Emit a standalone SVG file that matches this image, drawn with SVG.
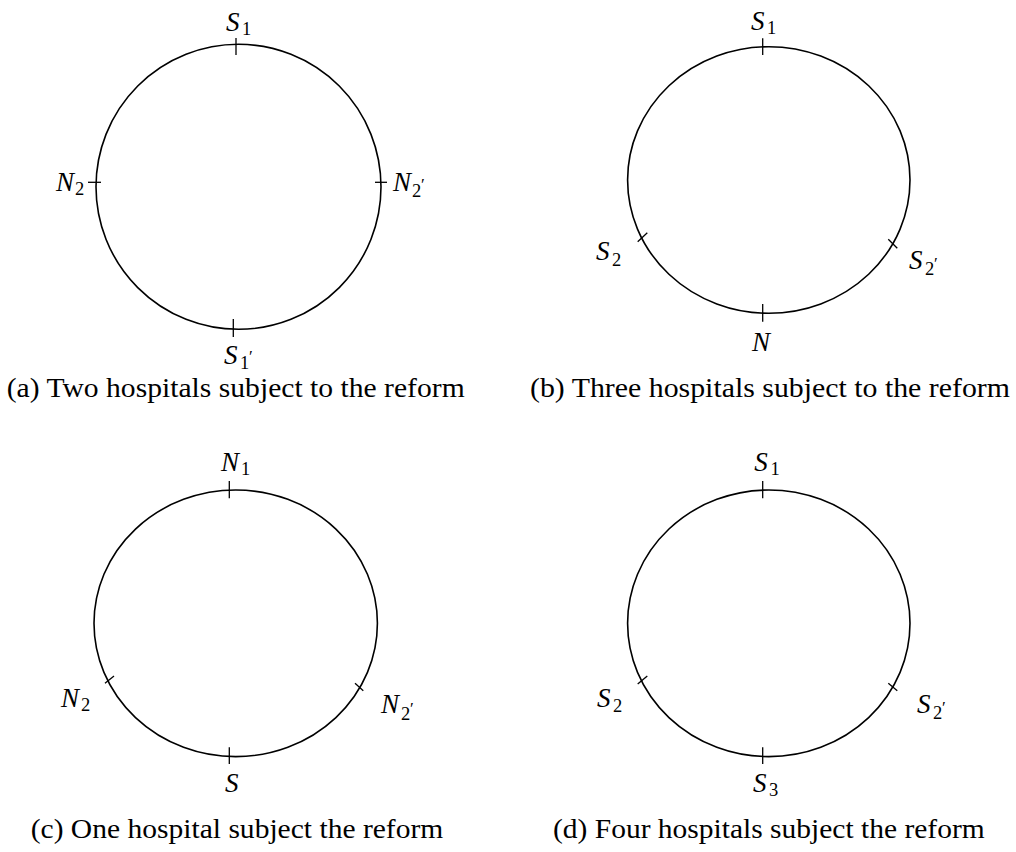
<svg xmlns="http://www.w3.org/2000/svg" width="1016" height="852" viewBox="0 0 1016 852">
<style>
.c{fill:none;stroke:#000;stroke-width:1.6}
.t{stroke:#000;stroke-width:1.3;fill:none}
text{font-family:'Liberation Serif','Times New Roman','DejaVu Serif',serif;fill:#000}
.m{font-style:italic;font-size:27px}
.s{font-size:18.5px}
.p{font-size:17px}
.cap{font-size:26.5px}
</style>
<rect width="1016" height="852" fill="#fff"/>

<g id="panel-a">
  <circle id="ring-a" class="c" cx="238.5" cy="186.8" r="142.5"/>
  <g id="ticks-a">
    <line class="t" x1="236" y1="38" x2="236" y2="55"/>
    <line class="t" x1="233.3" y1="319" x2="233.3" y2="337"/>
    <line class="t" x1="88" y1="182.3" x2="101" y2="182.3"/>
    <line class="t" x1="375" y1="182.3" x2="387" y2="182.3"/>
  </g>
  <g id="a-S1"><text class="m" x="226" y="31" font-family="Liberation Serif, serif">S</text><text class="s" x="242" y="35" font-family="Liberation Serif, serif">1</text></g>
  <g id="a-N2"><text class="m" x="56" y="190.5" font-family="Liberation Serif, serif">N</text><text class="s" x="75" y="195" font-family="Liberation Serif, serif">2</text></g>
  <g id="a-N2p"><text class="m" x="393" y="190.5" font-family="Liberation Serif, serif">N</text><text class="s" x="412" y="196.5" font-family="Liberation Serif, serif">2</text><text class="p" x="421" y="190" font-family="Liberation Serif, serif">′</text></g>
  <g id="a-S1p"><text class="m" x="224" y="364" font-family="Liberation Serif, serif">S</text><text class="s" x="240" y="368.5" font-family="Liberation Serif, serif">1</text><text class="p" x="249" y="362" font-family="Liberation Serif, serif">′</text></g>
  <text id="cap-a" class="cap" x="6.7" y="397" textLength="458" lengthAdjust="spacingAndGlyphs" font-family="Liberation Serif, serif">(a) Two hospitals subject to the reform</text>
</g>

<g id="panel-b">
  <ellipse id="ring-b" class="c" cx="768.8" cy="180" rx="141.2" ry="133.3"/>
  <g id="ticks-b">
    <line class="t" x1="762.7" y1="38.3" x2="762.7" y2="55"/>
    <line class="t" x1="762.7" y1="304" x2="762.7" y2="321.7"/>
    <line class="t" x1="637.7" y1="241.7" x2="647.3" y2="232.7"/>
    <line class="t" x1="888.3" y1="239.3" x2="897.3" y2="248.3"/>
  </g>
  <g id="b-S1"><text class="m" x="751" y="30" font-family="Liberation Serif, serif">S</text><text class="s" x="767" y="34" font-family="Liberation Serif, serif">1</text></g>
  <g id="b-S2"><text class="m" x="596" y="260" font-family="Liberation Serif, serif">S</text><text class="s" x="612" y="266" font-family="Liberation Serif, serif">2</text></g>
  <g id="b-S2p"><text class="m" x="909" y="269" font-family="Liberation Serif, serif">S</text><text class="s" x="925" y="275" font-family="Liberation Serif, serif">2</text><text class="p" x="934" y="268.5" font-family="Liberation Serif, serif">′</text></g>
  <g id="b-N"><text class="m" x="752" y="350.5" font-family="Liberation Serif, serif">N</text></g>
  <text id="cap-b" class="cap" x="530" y="397" textLength="480" lengthAdjust="spacingAndGlyphs" font-family="Liberation Serif, serif">(b) Three hospitals subject to the reform</text>
</g>

<g id="panel-c">
  <ellipse id="ring-c" class="c" cx="235.7" cy="623.3" rx="141.7" ry="133.3"/>
  <g id="ticks-c">
    <line class="t" x1="229.3" y1="481" x2="229.3" y2="498.3"/>
    <line class="t" x1="229.3" y1="747.3" x2="229.3" y2="764"/>
    <line class="t" x1="105" y1="683.3" x2="114" y2="676"/>
    <line class="t" x1="355" y1="683.3" x2="363.3" y2="690.7"/>
  </g>
  <g id="c-N1"><text class="m" x="221" y="470.7" font-family="Liberation Serif, serif">N</text><text class="s" x="241" y="474.5" font-family="Liberation Serif, serif">1</text></g>
  <g id="c-N2"><text class="m" x="61" y="706.7" font-family="Liberation Serif, serif">N</text><text class="s" x="81" y="711" font-family="Liberation Serif, serif">2</text></g>
  <g id="c-N2p"><text class="m" x="381" y="713" font-family="Liberation Serif, serif">N</text><text class="s" x="401" y="720" font-family="Liberation Serif, serif">2</text><text class="p" x="410" y="713.5" font-family="Liberation Serif, serif">′</text></g>
  <g id="c-S"><text class="m" x="225" y="792" font-family="Liberation Serif, serif">S</text></g>
  <text id="cap-c" class="cap" x="30.7" y="838" textLength="412.6" lengthAdjust="spacingAndGlyphs" font-family="Liberation Serif, serif">(c) One hospital subject the reform</text>
</g>

<g id="panel-d">
  <ellipse id="ring-d" class="c" cx="768.8" cy="623.3" rx="141.2" ry="133.3"/>
  <g id="ticks-d">
    <line class="t" x1="762.7" y1="481" x2="762.7" y2="498.3"/>
    <line class="t" x1="762.7" y1="747.3" x2="762.7" y2="764"/>
    <line class="t" x1="637.7" y1="684" x2="647.3" y2="676"/>
    <line class="t" x1="888.3" y1="683.3" x2="897.3" y2="690.7"/>
  </g>
  <g id="d-S1"><text class="m" x="754.3" y="471" font-family="Liberation Serif, serif">S</text><text class="s" x="770.5" y="475" font-family="Liberation Serif, serif">1</text></g>
  <g id="d-S2"><text class="m" x="597" y="707" font-family="Liberation Serif, serif">S</text><text class="s" x="613" y="712" font-family="Liberation Serif, serif">2</text></g>
  <g id="d-S2p"><text class="m" x="917" y="713.3" font-family="Liberation Serif, serif">S</text><text class="s" x="933" y="719" font-family="Liberation Serif, serif">2</text><text class="p" x="942" y="712.5" font-family="Liberation Serif, serif">′</text></g>
  <g id="d-S3"><text class="m" x="753" y="791.7" font-family="Liberation Serif, serif">S</text><text class="s" x="769" y="796" font-family="Liberation Serif, serif">3</text></g>
  <text id="cap-d" class="cap" x="553" y="838" textLength="431.7" lengthAdjust="spacingAndGlyphs" font-family="Liberation Serif, serif">(d) Four hospitals subject the reform</text>
</g>
</svg>
